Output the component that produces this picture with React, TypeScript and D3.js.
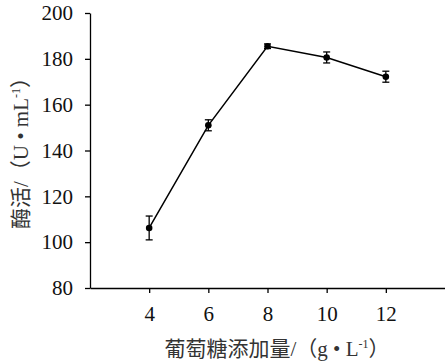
import * as d3 from "d3";
import React, { useEffect, useRef } from "react";

// glucose addition (g/L) vs enzyme activity (U/mL)
const glucose = [4, 6, 8, 10, 12];
const activity = [106.2, 151.0, 185.5, 180.6, 172.2];
const errors = [5.2, 2.4, 1.0, 2.4, 2.4];
const xTicks = [4, 6, 8, 10, 12];
const yTicks = [80, 100, 120, 140, 160, 180, 200];

const WIDTH = 445;
const HEIGHT = 363;
const SERIF = "Liberation Serif, Times New Roman, serif";
const TITLE_FONT = "Liberation Serif, Noto Sans CJK SC, serif";

const App: React.FC = () => {
  const svgRef = useRef<SVGSVGElement>(null);

  useEffect(() => {
    if (!svgRef.current) return;
    const svg = d3.select(svgRef.current);
    svg.selectAll("*").remove();

    const x = d3.scaleLinear().domain([2, 14]).range([90, 445]);
    const y = d3.scaleLinear().domain([80, 200]).range([288, 13]);

    // X axis
    const xAxis = svg
      .append("g")
      .attr("transform", `translate(0,${y(80)})`)
      .call(
        d3.axisBottom(x).tickValues(xTicks).tickSize(5).tickPadding(13).tickSizeOuter(0),
      )
      .attr("font-family", SERIF)
      .attr("font-size", 21);
    xAxis.select(".domain").attr("stroke", "#000").attr("stroke-width", 1.3);
    xAxis.selectAll(".tick line").attr("stroke-width", 1.3);
    xAxis.selectAll(".tick text").attr("fill", "#111");

    // Y axis
    const yAxis = svg
      .append("g")
      .attr("transform", `translate(${x(2)},0)`)
      .call(
        d3.axisLeft(y).tickValues(yTicks).tickSize(5).tickPadding(12).tickSizeOuter(0),
      )
      .attr("font-family", SERIF)
      .attr("font-size", 21);
    yAxis.select(".domain").attr("stroke", "#000").attr("stroke-width", 1.3);
    yAxis.selectAll(".tick line").attr("stroke-width", 1.3);
    yAxis.selectAll(".tick text").attr("fill", "#111");

    const pts = glucose.map((g, i) => ({ g, v: activity[i], e: errors[i] }));

    // line
    svg
      .append("path")
      .datum(pts)
      .attr("fill", "none")
      .attr("stroke", "#000")
      .attr("stroke-width", 1.5)
      .attr(
        "d",
        d3
          .line<{ g: number; v: number }>()
          .x((d) => x(d.g))
          .y((d) => y(d.v)),
      );

    // error bars
    const eb = svg.append("g").attr("stroke", "#000").attr("stroke-width", 1.3);
    pts.forEach((d) => {
      const cx = x(d.g);
      eb.append("line")
        .attr("x1", cx).attr("x2", cx)
        .attr("y1", y(d.v + d.e)).attr("y2", y(d.v - d.e));
      [d.v + d.e, d.v - d.e].forEach((v) => {
        eb.append("line")
          .attr("x1", cx - 3.5).attr("x2", cx + 3.5)
          .attr("y1", y(v)).attr("y2", y(v));
      });
    });

    // markers
    svg
      .append("g")
      .selectAll("circle")
      .data(pts)
      .join("circle")
      .attr("cx", (d) => x(d.g))
      .attr("cy", (d) => y(d.v))
      .attr("r", 3.3)
      .attr("fill", "#000");

    // x title
    const xt = svg
      .append("text")
      .attr("x", 277)
      .attr("y", 356)
      .attr("text-anchor", "middle")
      .attr("font-family", TITLE_FONT)
      .attr("font-size", 21)
      .attr("fill", "#333");
    xt.append("tspan").text("葡萄糖添加量/（g • L");
    xt.append("tspan").attr("dy", -8).attr("font-size", 12).text("-1");
    xt.append("tspan").attr("dy", 8).text("）");

    // y title
    const yt = svg
      .append("text")
      .attr("transform", `translate(28,148) rotate(-90)`)
      .attr("text-anchor", "middle")
      .attr("font-family", TITLE_FONT)
      .attr("font-size", 21)
      .attr("fill", "#333");
    yt.append("tspan").text("酶活/（U • mL");
    yt.append("tspan").attr("dy", -8).attr("font-size", 12).text("-1");
    yt.append("tspan").attr("dy", 8).text("）");
  }, []);

  return (
    <svg
      ref={svgRef}
      width={WIDTH}
      height={HEIGHT}
      style={{ position: "absolute", left: 0, top: 0, background: "#fff" }}
    />
  );
};

export default App;
